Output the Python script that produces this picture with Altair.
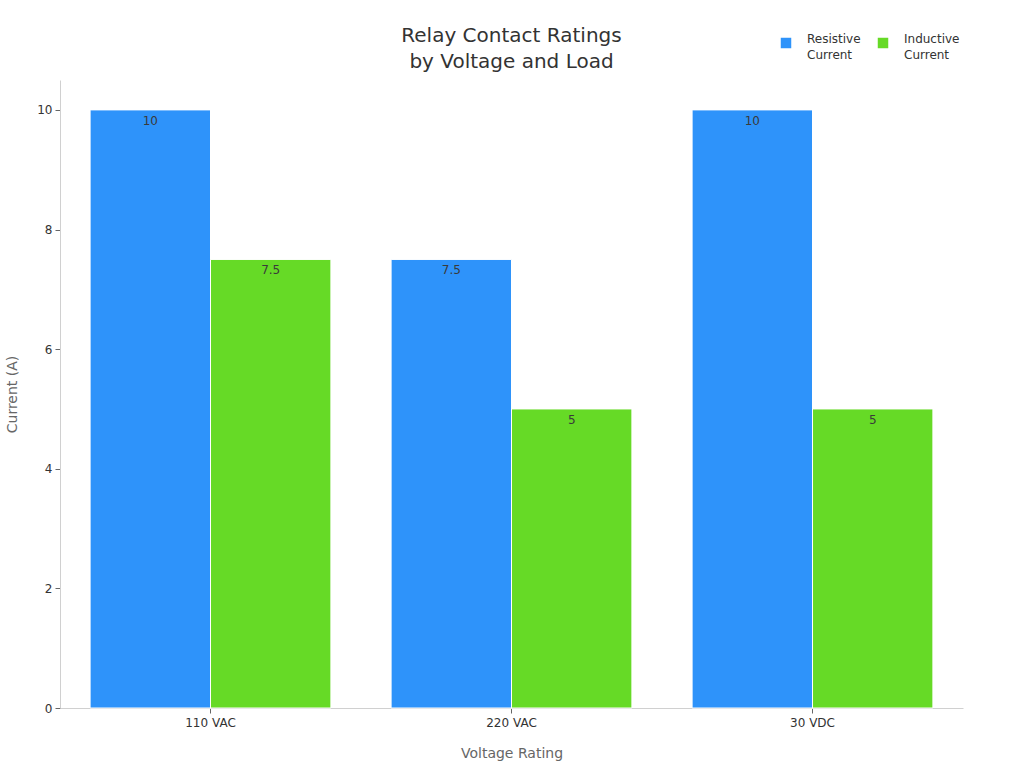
import altair as alt
import pandas as pd

voltages = ["110 VAC", "220 VAC", "30 VDC"]
resistive = [10, 7.5, 10]
inductive = [7.5, 5, 5]
series = ["Resistive Current", "Inductive Current"]
colors = ["#2E93FA", "#66DA26"]

rows = []
for v, r, i in zip(voltages, resistive, inductive):
    rows.append({"Voltage": v, "Series": series[0], "Current": r})
    rows.append({"Voltage": v, "Series": series[1], "Current": i})
df = pd.DataFrame(rows)

x = alt.X("Voltage:N", sort=voltages,
          scale=alt.Scale(paddingInner=0.2, paddingOuter=0.1),
          axis=alt.Axis(title="Voltage Rating", labelAngle=0, labelFontSize=12,
                        labelColor="#333333", titleFontSize=14, titleColor="#666666",
                        titleFontWeight="normal", titlePadding=18,
                        domainColor="#d0d0d0", tickColor="#666666", tickSize=5,
                        labelPadding=4, grid=False))
y = alt.Y("Current:Q", scale=alt.Scale(domain=[0, 10.5], nice=False),
          axis=alt.Axis(title="Current (A)", values=[0, 2, 4, 6, 8, 10], labelFontSize=12,
                        labelColor="#333333", titleFontSize=14, titleColor="#666666",
                        titleFontWeight="normal", titlePadding=17,
                        domainColor="#d0d0d0", tickColor="#666666", tickSize=5,
                        labelPadding=3, grid=False))
xo = alt.XOffset("Series:N", sort=series)

bars = alt.Chart(df).mark_bar(stroke="white", strokeWidth=1).encode(
    x=x, y=y, xOffset=xo,
    color=alt.Color("Series:N", sort=series,
                    scale=alt.Scale(domain=series, range=colors),
                    legend=alt.Legend(title=None, orient="none", direction="horizontal",
                                      legendX=720, legendY=-43, symbolType="square",
                                      symbolSize=110, symbolStrokeWidth=0,
                                      labelFontSize=12, labelColor="#333333",
                                      labelBaseline="alphabetic",
                                      labelExpr="split(datum.label, ' ')",
                                      columnPadding=16, labelOffset=15,
                                      labelLimit=200)),
)

labels = alt.Chart(df).mark_text(baseline="top", dy=6, fontSize=12, color="#3a3a3a").encode(
    x=x, y=y, xOffset=xo, text=alt.Text("Current:Q"),
)

chart = (bars + labels).properties(
    width=903, height=628,
    title=alt.TitleParams(text=["Relay Contact Ratings", "by Voltage and Load"],
                          fontSize=20, fontWeight="normal", color="#333333",
                          anchor="middle", offset=8, lineHeight=26, dy=43),
    autosize=alt.AutoSizeParams(type="none"),
    padding={"left": 60, "top": 80, "right": 61, "bottom": 60},
).configure(font="DejaVu Sans", view={"stroke": "transparent", "strokeWidth": 0},
            style={"guide-label": {"lineHeight": 16}})

chart.save("out.html", embed_options={"renderer": "svg", "actions": False})
